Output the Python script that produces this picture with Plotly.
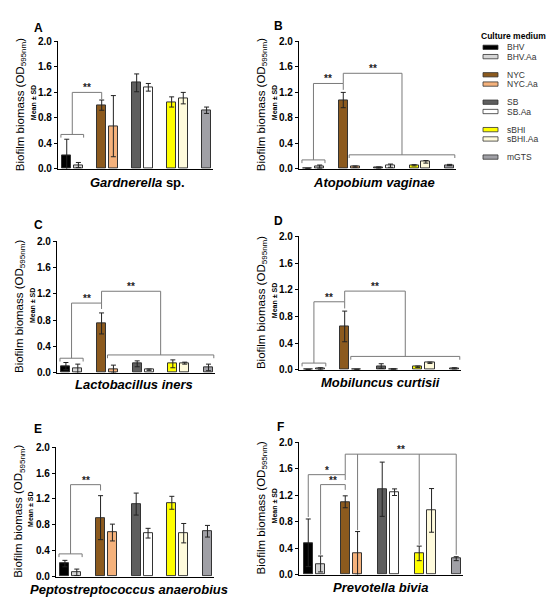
import plotly.graph_objects as go

# ---------------- data ----------------
categories = ["BHV", "BHV.Aa", "NYC", "NYC.Aa", "SB", "SB.Aa", "sBHI", "sBHI.Aa", "mGTS"]
groups = [["BHV", "BHV.Aa"], ["NYC", "NYC.Aa"], ["SB", "SB.Aa"], ["sBHI", "sBHI.Aa"], ["mGTS"]]
colors = ["#000000", "#d6d6d6", "#8c5a1e", "#f5b27c", "#5e5e5e", "#ffffff", "#ffff00", "#fffbdc", "#a0a0a6"]

species = ["<i>Gardnerella</i> sp.", "<i>Atopobium vaginae</i>", "<i>Lactobacillus iners</i>",
           "<i>Mobiluncus curtisii</i>", "<i>Peptostreptococcus anaerobius</i>", "<i>Prevotella bivia</i>"]
panel_letters = ["A", "B", "C", "D", "E", "F"]

A_mean = [0.205, 0.06, 1.00, 0.67, 1.35, 1.28, 1.05, 1.11, 0.92]
A_sd = [0.26, 0.04, 0.08, 0.48, 0.14, 0.06, 0.08, 0.09, 0.05]
B_mean = [0.005, 0.035, 1.08, 0.035, 0.02, 0.05, 0.055, 0.11, 0.06]
B_sd = [0.003, 0.025, 0.12, 0.01, 0.01, 0.025, 0.01, 0.02, 0.01]
C_mean = [0.10, 0.06, 0.75, 0.055, 0.135, 0.045, 0.135, 0.145, 0.08]
C_sd = [0.055, 0.07, 0.16, 0.06, 0.045, 0.01, 0.06, 0.015, 0.05]
D_mean = [0.003, 0.015, 0.65, 0.005, 0.055, 0.01, 0.045, 0.105, 0.02]
D_sd = [0.002, 0.015, 0.23, 0.003, 0.035, 0.005, 0.01, 0.01, 0.01]
E_mean = [0.20, 0.065, 0.91, 0.68, 1.12, 0.67, 1.14, 0.67, 0.70]
E_sd = [0.05, 0.05, 0.34, 0.13, 0.17, 0.075, 0.10, 0.15, 0.09]
F_mean = [0.48, 0.16, 1.10, 0.32, 1.29, 1.245, 0.32, 0.97, 0.24]
F_sd = [0.36, 0.12, 0.09, 0.33, 0.41, 0.05, 0.11, 0.33, 0.03]

means = [A_mean, B_mean, C_mean, D_mean, E_mean, F_mean]
sds = [A_sd, B_sd, C_sd, D_sd, E_sd, F_sd]

rest = ["NYC.Aa", "SB", "SB.Aa", "sBHI", "sBHI.Aa", "mGTS"]
# significance brackets: (legs [(categories, height)], top height, label)
brackets = [
    [([["BHV", "BHV.Aa"], 0.54], [["NYC"], 1.09]), 1.20, "**"],
    [([["BHV", "BHV.Aa"], 0.14], [["NYC"], 1.24]), 1.34, "**"],
    [([["NYC"], 1.34], [rest, 0.22]), 1.50, "**"],
    [([["BHV", "BHV.Aa"], 0.22], [["NYC"], 0.97]), 1.06, "**"],
    [([["NYC"], 1.06], [rest, 0.27]), 1.24, "**"],
    [([["BHV", "BHV.Aa"], 0.10], [["NYC"], 0.92]), 1.02, "**"],
    [([["NYC"], 1.02], [rest, 0.20]), 1.18, "**"],
    [([["BHV", "BHV.Aa"], 0.35], [["NYC"], 1.33]), 1.42, "**"],
    [([["BHV"], 0.87], [["NYC"], 1.43]), 1.51, "*"],
    [([["BHV.Aa"], 0.30], [["NYC"], 1.28]), 1.36, "**"],
    [([["NYC"], 1.51], [["NYC.Aa"], 0.67], [["sBHI"], 0.45], [["mGTS"], 0.30]), 1.82, "**"],
]
bracket_panel = [0, 1, 1, 2, 2, 3, 3, 4, 5, 5, 5]

yticks = [0.0, 0.4, 0.8, 1.2, 1.6, 2.0]

# ---------------- layout helpers ----------------
W, H = 559, 600
FONT = "Liberation Sans, Arial, sans-serif"
# pixel boxes (left, right, top, bottom)
boxes = [(50, 205, 28, 158), (291, 448, 28, 158), (49, 207, 232, 366),
         (291, 453, 227, 363), (48, 206, 442, 574), (291, 455, 437, 572)]
letter_pos = [(30, 14), (270, 12), (30, 215), (270, 211), (30, 423), (272, 421)]
xtitle_pos = [(129, 172), (366, 172), (126, 378), (372, 376), (121, 587), (372, 585)]

def fx(p):
    return p / W

def fy(p):
    return 1 - p / H

# positions: one empty slot between groups
pos = {}
p = 0
for g in groups:
    for c in g:
        pos[c] = p
        p += 1
    p += 1
positions = [pos[c] for c in categories]

fig = go.Figure()
annotations = []
shapes = []

for i in range(6):
    sfx = "" if i == 0 else str(i + 1)
    l, r, t, b = boxes[i]
    fig.add_trace(go.Bar(
        x=positions, y=means[i], width=0.75,
        marker=dict(color=colors, line=dict(color="#333333", width=1)),
        error_y=dict(type="data", array=sds[i], visible=True, color="#222222", thickness=1, width=2.5),
        xaxis="x" + sfx, yaxis="y" + sfx, showlegend=False, hoverinfo="skip"))
    fig.layout["xaxis" + sfx] = dict(
        domain=[fx(l), fx(r)], range=[-0.75, 12.55], anchor="y" + sfx,
        showline=True, linecolor="black", linewidth=1.4, ticks="", showticklabels=False,
        showgrid=False, zeroline=False, fixedrange=True)
    fig.layout["yaxis" + sfx] = dict(
        domain=[fy(b), fy(t)], range=[0, 2.0], anchor="x" + sfx,
        showline=True, linecolor="black", linewidth=1.4, ticks="outside", ticklen=3,
        tickwidth=1.2, tickcolor="black", tickvals=yticks,
        ticktext=["%.1f" % v for v in yticks],
        tickfont=dict(family=FONT, size=10, color="black", weight="bold"),
        showgrid=False, zeroline=False, fixedrange=True)
    cy = (t + b) / 2
    annotations.append(dict(
        xref="paper", yref="paper", x=fx(l - 37), y=fy(cy), textangle=-90,
        text="Biofilm biomass (OD<sub>595nm</sub>)", showarrow=False,
        xanchor="center", yanchor="middle", font=dict(family=FONT, size=11.5, color="black")))
    annotations.append(dict(
        xref="paper", yref="paper", x=fx(l - 25), y=fy(cy - 2), textangle=-90,
        text="<b>Mean ± SD</b>", showarrow=False,
        xanchor="center", yanchor="middle", font=dict(family=FONT, size=7, color="black")))
    lx, ly = letter_pos[i]
    annotations.append(dict(
        xref="paper", yref="paper", x=fx(lx), y=fy(ly), text="<b>%s</b>" % panel_letters[i],
        showarrow=False, xanchor="center", yanchor="middle",
        font=dict(family=FONT, size=12, color="black")))
    tx, ty = xtitle_pos[i]
    annotations.append(dict(
        xref="paper", yref="paper", x=fx(tx), y=fy(ty), text="<b>%s</b>" % species[i],
        showarrow=False, xanchor="center", yanchor="middle",
        font=dict(family=FONT, size=13, color="black")))

# brackets
for k, (legs, top, label) in enumerate(brackets):
    i = bracket_panel[k]
    sfx = "" if i == 0 else str(i + 1)
    xs, ys = [], []
    leg_x = []
    for cats, h in legs:
        ps = [pos[c] for c in cats]
        if len(ps) == 1:
            x = ps[0]
        else:
            x0, x1 = min(ps) - 0.5, max(ps) + 0.45
            xs += [x0, x0, x1, x1, None]
            ys += [h - 0.05, h, h, h - 0.05, None]
            x = (x0 + x1) / 2
        xs += [x, x, None]
        ys += [h, top, None]
        leg_x.append(x)
    xs += [min(leg_x), max(leg_x), None]
    ys += [top, top, None]
    fig.add_trace(go.Scatter(x=xs, y=ys, mode="lines", line=dict(color="#7a7a7a", width=1),
                             xaxis="x" + sfx, yaxis="y" + sfx, showlegend=False, hoverinfo="skip"))
    annotations.append(dict(
        xref="x" + sfx, yref="y" + sfx, x=(min(leg_x) + max(leg_x)) / 2, y=top,
        text="<b>%s</b>" % label, showarrow=False, xanchor="center", yanchor="bottom",
        yshift=-3, font=dict(family=FONT, size=10, color="#222222")))

# legend drawn as swatches + labels
annotations.append(dict(
    xref="paper", yref="paper", x=fx(471), y=fy(22), text="<b>Culture medium</b>",
    showarrow=False, xanchor="left", yanchor="middle", font=dict(family=FONT, size=8.5, color="black")))
for g_i, g in enumerate(groups):
    for j, c in enumerate(g):
        yc = 34 + g_i * 28 + j * 9.5
        col = colors[categories.index(c)]
        shapes.append(dict(type="rect", xref="paper", yref="paper",
                           x0=fx(475), x1=fx(490), y0=fy(yc + 2.2), y1=fy(yc - 2.2),
                           fillcolor=col, line=dict(color="#333333", width=0.8)))
        annotations.append(dict(
            xref="paper", yref="paper", x=fx(497), y=fy(yc), text=c, showarrow=False,
            xanchor="left", yanchor="middle", font=dict(family=FONT, size=8.5, color="#333333")))

fig.update_layout(
    width=W, height=H, margin=dict(l=0, r=0, t=0, b=0),
    paper_bgcolor="white", plot_bgcolor="white",
    annotations=annotations, shapes=shapes, bargap=0, showlegend=False)

fig.write_html("out.html")
